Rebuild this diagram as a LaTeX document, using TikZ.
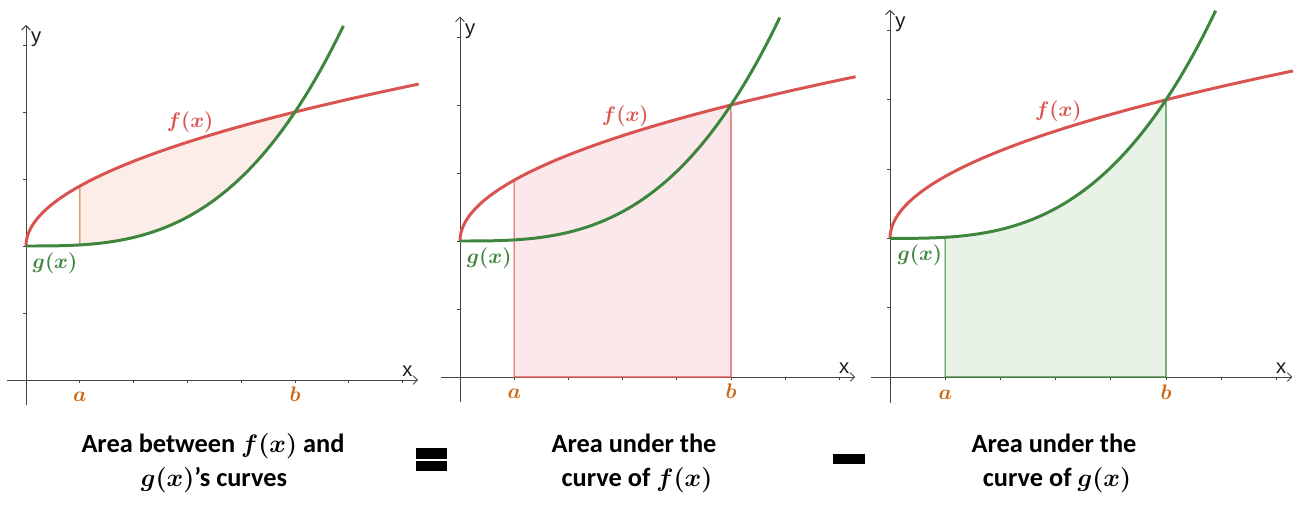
\documentclass[tikz,border=0pt]{standalone}
\usepackage{fontspec}
\setmainfont{Carlito}
\newfontfamily\axisfont{Liberation Sans}
\usetikzlibrary{arrows.meta}
\definecolor{fred}{RGB}{217,84,80}
\definecolor{ggreen}{RGB}{62,134,62}
\definecolor{aorange}{RGB}{204,104,20}
\definecolor{axisgray}{RGB}{70,70,70}
\definecolor{fillone}{RGB}{252,237,232}
\definecolor{filltwo}{RGB}{251,232,234}
\definecolor{fillthree}{RGB}{232,242,231}
\tikzstyle{axisline}=[draw=axisgray, line width=0.55pt, -{Straight Barb[length=2.5pt,width=5pt]}]
\tikzstyle{tickmark}=[draw=axisgray, line width=0.5pt]
\tikzstyle{fcurve}=[draw=fred, line width=1.7pt]
\tikzstyle{gcurve}=[draw=ggreen, line width=1.7pt]
\tikzstyle{bound}=[line width=0.6pt]
\tikzstyle{lbl}=[font=\fontsize{12.5}{15}\selectfont\boldmath, inner sep=0pt]
\tikzstyle{axlabel}=[font=\axisfont\fontsize{11.5}{13}\selectfont, inner sep=0pt, anchor=base west, text=axisgray!40!black]
\tikzstyle{captxt}=[font=\fontsize{15}{18}\selectfont\bfseries\boldmath, inner sep=0pt, anchor=base]

% axes, region (#2), curves and labels of one panel
\newcommand{\curvepanel}[2]{%
  \draw[axisline] (-0.35,0) -- (7.29,0);
  \draw[axisline] (0,-0.37) -- (0,5.3);
  \foreach \i in {1,...,7} \draw[tickmark] (\i,0) -- (\i,-0.05);
  \foreach \j in {1,...,5} \draw[tickmark] (0,\j) -- (-0.05,\j);
  \node[axlabel] (x#1) at (6.99,0.05) {x};
  \node[axlabel] (y#1) at (0.09,5.04) {y};
  #2
  \draw[fcurve] plot[domain=0:2.702, samples=60, variable=\t] ({\t*\t},{2+0.8944*\t});
  \draw[gcurve] plot[domain=0:5.9, samples=80] (\x,{2+0.016*\x*\x*\x});
  \node[lbl, text=fred] (f#1) at (3.05,3.84) {$f(x)$};
  \node[lbl, text=ggreen] (g#1) at (0.54,1.75) {$g(x)$};
  \node[lbl, text=aorange, anchor=base] (a#1) at (1,-0.32) {$a$};
  \node[lbl, text=aorange, anchor=base] (b#1) at (5,-0.32) {$b$};
}

\begin{document}
\begin{tikzpicture}
\useasboundingbox (0,0) rectangle (25.92,10.18);

% between the curves
\begin{scope}[shift={(0.52,2.58)}, xscale=1.076, yscale=1.34]
  \curvepanel{1}{\filldraw[bound, fill=fillone, draw=aorange] (1,2.016)
    -- plot[domain=1:2.2361, samples=30, variable=\t] ({\t*\t},{2+0.8944*\t})
    -- plot[domain=5:1, samples=30] (\x,{2+0.016*\x*\x*\x}) -- cycle;}
\end{scope}

% under f
\begin{scope}[shift={(9.20,2.64)}, xscale=1.084, yscale=1.36]
  \curvepanel{2}{\filldraw[bound, fill=filltwo, draw=fred] (1,0)
    -- plot[domain=1:2.2361, samples=30, variable=\t] ({\t*\t},{2+0.8944*\t})
    -- (5,0) -- cycle;}
\end{scope}

% under g
\begin{scope}[shift={(17.80,2.64)}, xscale=1.104, yscale=1.386]
  \curvepanel{3}{\filldraw[bound, fill=fillthree, draw=ggreen] (1,0)
    -- plot[domain=1:5, samples=30] (\x,{2+0.016*\x*\x*\x})
    -- (5,0) -- cycle;}
\end{scope}

% captions
\node[captxt] (lhs1) at (4.26,1.14) {Area between $f(x)$ and};
\node[captxt] (lhs2) at (4.28,0.46) {$g(x)$'s curves};
\node[captxt] (mid1) at (12.68,1.14) {Area under the};
\node[captxt] (mid2) at (12.74,0.46) {curve of $f(x)$};
\node[captxt] (rhs1) at (21.08,1.14) {Area under the};
\node[captxt] (rhs2) at (21.14,0.46) {curve of $g(x)$};

% equals and minus signs
\fill (8.32,1.00) rectangle (8.94,1.22);
\fill (8.32,0.76) rectangle (8.94,0.96);
\fill (16.66,0.90) rectangle (17.30,1.10);
\end{tikzpicture}
\end{document}
